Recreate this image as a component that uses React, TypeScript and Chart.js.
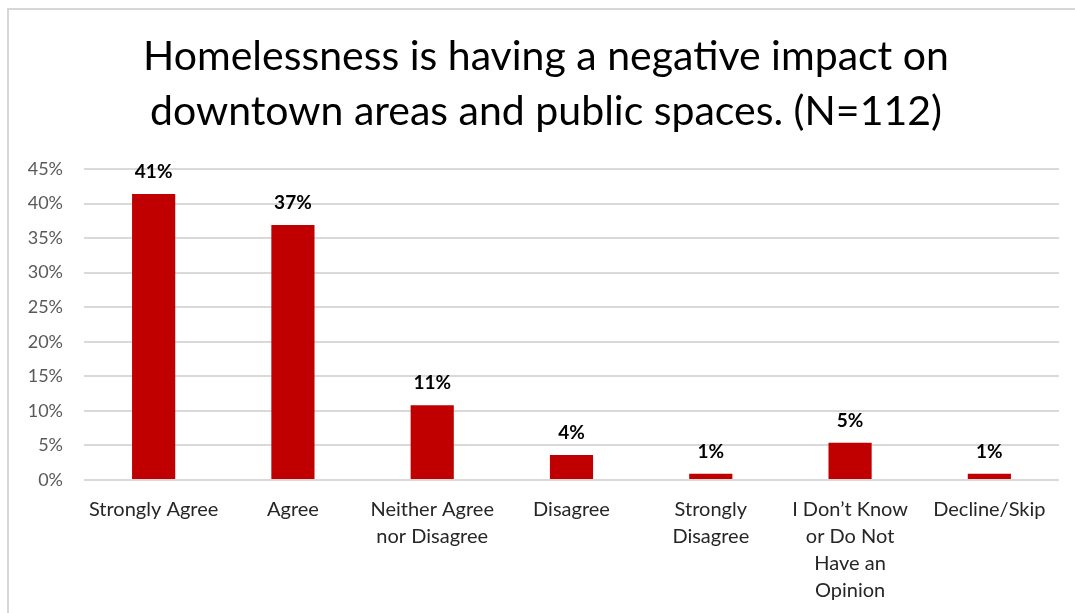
import React, { useEffect, useRef } from "react";
import { Chart, registerables } from "chart.js";

Chart.register(...registerables);

const titleLines = [
  "Homelessness is having a negative impact on",
  "downtown areas and public spaces. (N=112)",
];

const categories: string[][] = [
  ["Strongly Agree"],
  ["Agree"],
  ["Neither Agree", "nor Disagree"],
  ["Disagree"],
  ["Strongly", "Disagree"],
  ["I Don\u2019t Know", "or Do Not", "Have an", "Opinion"],
  ["Decline/Skip"],
];

const values = [41.4, 36.9, 10.8, 3.6, 0.9, 5.4, 0.9];

const yMin = 0;
const yMax = 45;
const yStep = 5;

const FONT = "Lato, 'Liberation Sans', Arial, sans-serif";

const valueLabels = {
  id: "valueLabels",
  afterDatasetsDraw(chart: any) {
    const ctx = chart.ctx;
    const meta = chart.getDatasetMeta(0);
    const data = chart.data.datasets[0].data as number[];
    ctx.save();
    ctx.font = `bold 19px ${FONT}`;
    ctx.fillStyle = "#000000";
    ctx.textAlign = "center";
    ctx.textBaseline = "middle";
    meta.data.forEach((bar: any, i: number) => {
      ctx.fillText(Math.round(data[i]) + "%", bar.x, bar.y - 22);
    });
    ctx.restore();
  },
};

const chartTitle = {
  id: "chartTitle",
  afterDraw(chart: any) {
    const ctx = chart.ctx;
    ctx.save();
    ctx.font = `normal 41px ${FONT}`;
    ctx.fillStyle = "#000000";
    ctx.textAlign = "center";
    ctx.textBaseline = "alphabetic";
    titleLines.forEach((line, i) => {
      ctx.fillText(line, 546, 70 + i * 55);
    });
    ctx.restore();
  },
};

export default function App() {
  const ref = useRef<HTMLCanvasElement | null>(null);

  useEffect(() => {
    if (!ref.current) return;
    const chart = new Chart(ref.current, {
      type: "bar",
      data: {
        labels: categories,
        datasets: [
          {
            data: values,
            backgroundColor: "#C00000",
            borderWidth: 0,
            categoryPercentage: 1,
            barPercentage: 0.31,
          },
        ],
      },
      options: {
        animation: false,
        responsive: false,
        maintainAspectRatio: false,
        layout: { padding: { left: 0, right: 16, top: 169, bottom: 0 } },
        plugins: {
          legend: { display: false },
          tooltip: { enabled: false },
          title: { display: false },
        },
        scales: {
          x: {
            grid: { display: false, drawTicks: false },
            border: { display: false },
            ticks: {
              color: "#262626",
              font: { family: FONT, size: 20, lineHeight: 1.35 },
              padding: 16,
              maxRotation: 0,
              autoSkip: false,
            },
            afterFit(scale: any) {
              scale.height = 133;
            },
          },
          y: {
            min: yMin,
            max: yMax,
            grid: { color: "#d9d9d9", lineWidth: 2, drawTicks: false },
            border: { display: false },
            ticks: {
              stepSize: yStep,
              color: "#595959",
              font: { family: FONT, size: 18 },
              padding: 21,
              callback: (v: any) => v + "%",
            },
            afterFit(scale: any) {
              scale.width = 84;
            },
          },
        },
      },
      plugins: [valueLabels, chartTitle],
    });
    return () => chart.destroy();
  }, []);

  return (
    <div style={{ position: "fixed", left: 0, top: 0, width: 1075, height: 613, background: "#ffffff" }}>
      <div
        style={{
          position: "absolute",
          left: 7,
          top: 8,
          width: 1100,
          height: 700,
          borderTop: "2px solid #d6d6d6",
          borderLeft: "2px solid #d6d6d6",
        }}
      />
      <canvas ref={ref} width={1075} height={613} style={{ position: "absolute", left: 0, top: 0 }} />
    </div>
  );
}
